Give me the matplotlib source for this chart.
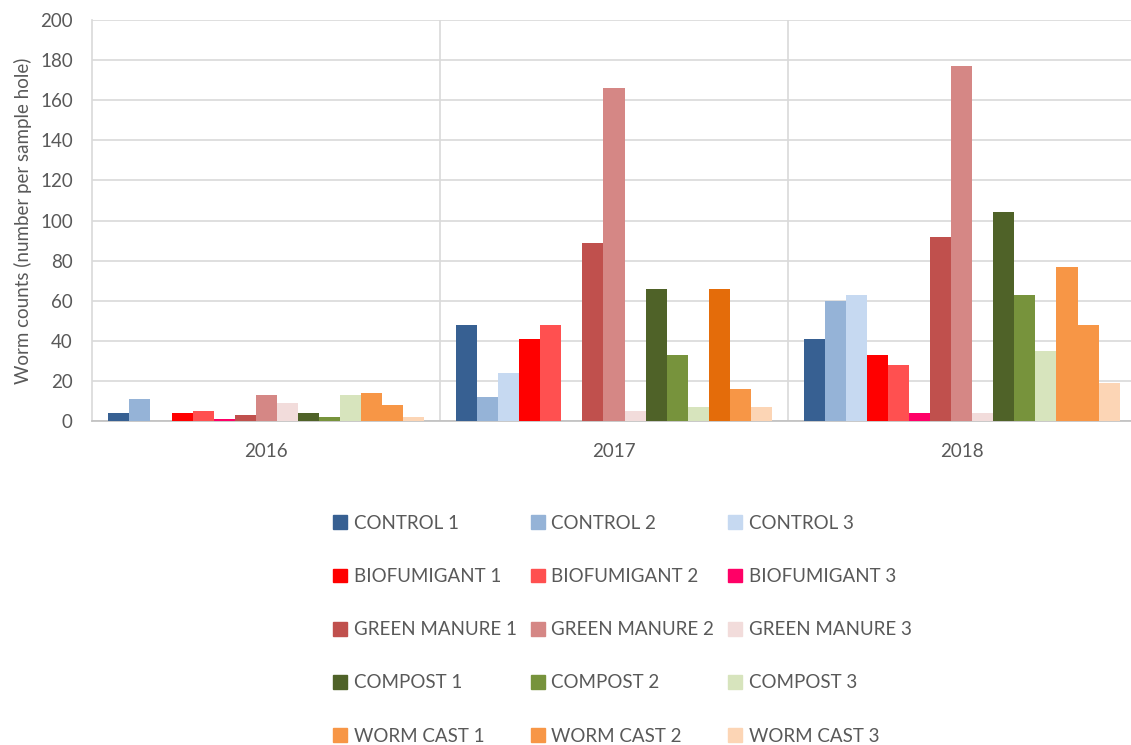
import numpy as np
import matplotlib.pyplot as plt
from matplotlib.patches import Patch

years = ['2016', '2017', '2018']
series = ['CONTROL 1', 'CONTROL 2', 'CONTROL 3',
          'BIOFUMIGANT 1', 'BIOFUMIGANT 2', 'BIOFUMIGANT 3',
          'GREEN MANURE 1', 'GREEN MANURE 2', 'GREEN MANURE 3',
          'COMPOST 1', 'COMPOST 2', 'COMPOST 3',
          'WORM CAST 1', 'WORM CAST 2', 'WORM CAST 3']

# one list per year, in series order
counts_2016 = [4, 11, 0, 4, 5, 1, 3, 13, 9, 4, 2, 13, 14, 8, 2]
counts_2017 = [48, 12, 24, 41, 48, 0, 89, 166, 5, 66, 33, 7, 66, 16, 7]
counts_2018 = [41, 60, 63, 33, 28, 4, 92, 177, 4, 104, 63, 35, 77, 48, 19]

colors = ['#376092', '#95B3D7', '#C6D9F1',
          '#FF0000', '#FF5050', '#FF0066',
          '#C0504D', '#D58785', '#F2DCDB',
          '#4F6228', '#77933C', '#D7E4BD',
          '#F79646', '#F79646', '#FCD5B5']
wc1_2017_color = '#E46C0A'

plt.rcParams['font.family'] = ['Lato', 'DejaVu Sans']
txt = '#595959'
fs = 13.5

data = np.array([counts_2016, counts_2017, counts_2018])
x = np.arange(len(years))
n = len(series)
w = 0.0605

fig = plt.figure(figsize=(11.31, 7.45), dpi=100)
ax = fig.add_axes([92.3 / 1131, 1 - 421 / 745, (1135.7 - 92.3) / 1131, 401 / 745])

for i in range(n):
    cols = [colors[i]] * len(years)
    if series[i] == 'WORM CAST 1':
        cols[1] = wc1_2017_color
    ax.bar(x + (i - (n - 1) / 2) * w, data[:, i], w, color=cols, zorder=3)

ax.set_xlim(-0.5, 2.5)
ax.set_ylim(0, 200)
ax.set_yticks(np.arange(0, 201, 20))
ax.set_xticks(x)
ax.set_xticklabels(years)
ax.yaxis.grid(True, color='#D9D9D9', linewidth=1.2, zorder=0)
for b in [0.5, 1.5]:
    ax.axvline(b, color='#D9D9D9', linewidth=1.2, zorder=0)
for s in ['top', 'right']:
    ax.spines[s].set_visible(False)
ax.spines['left'].set_color('#D9D9D9')
ax.spines['bottom'].set_color('#BFBFBF')
ax.spines['left'].set_linewidth(1.2)
ax.spines['bottom'].set_linewidth(1.2)
ax.tick_params(axis='both', length=0, labelsize=fs, colors=txt)
ax.tick_params(axis='y', pad=14)
ax.tick_params(axis='x', pad=16)
ax.set_ylabel('Worm counts (number per sample hole)', fontsize=fs, color=txt, labelpad=6)

handles = [Patch(color=colors[i]) for i in range(n)]
order = [r * 3 + c for c in range(3) for r in range(5)]
fig.legend([handles[i] for i in order], [series[i] for i in order],
           ncol=3, loc='upper left', bbox_to_anchor=(316 / 1131, 1 - 498 / 745),
           frameon=False, fontsize=fs, labelcolor=txt,
           handlelength=0.75, handleheight=0.75, handletextpad=0.35,
           labelspacing=1.93, columnspacing=0.75)

fig.savefig('out.png', dpi=100)
